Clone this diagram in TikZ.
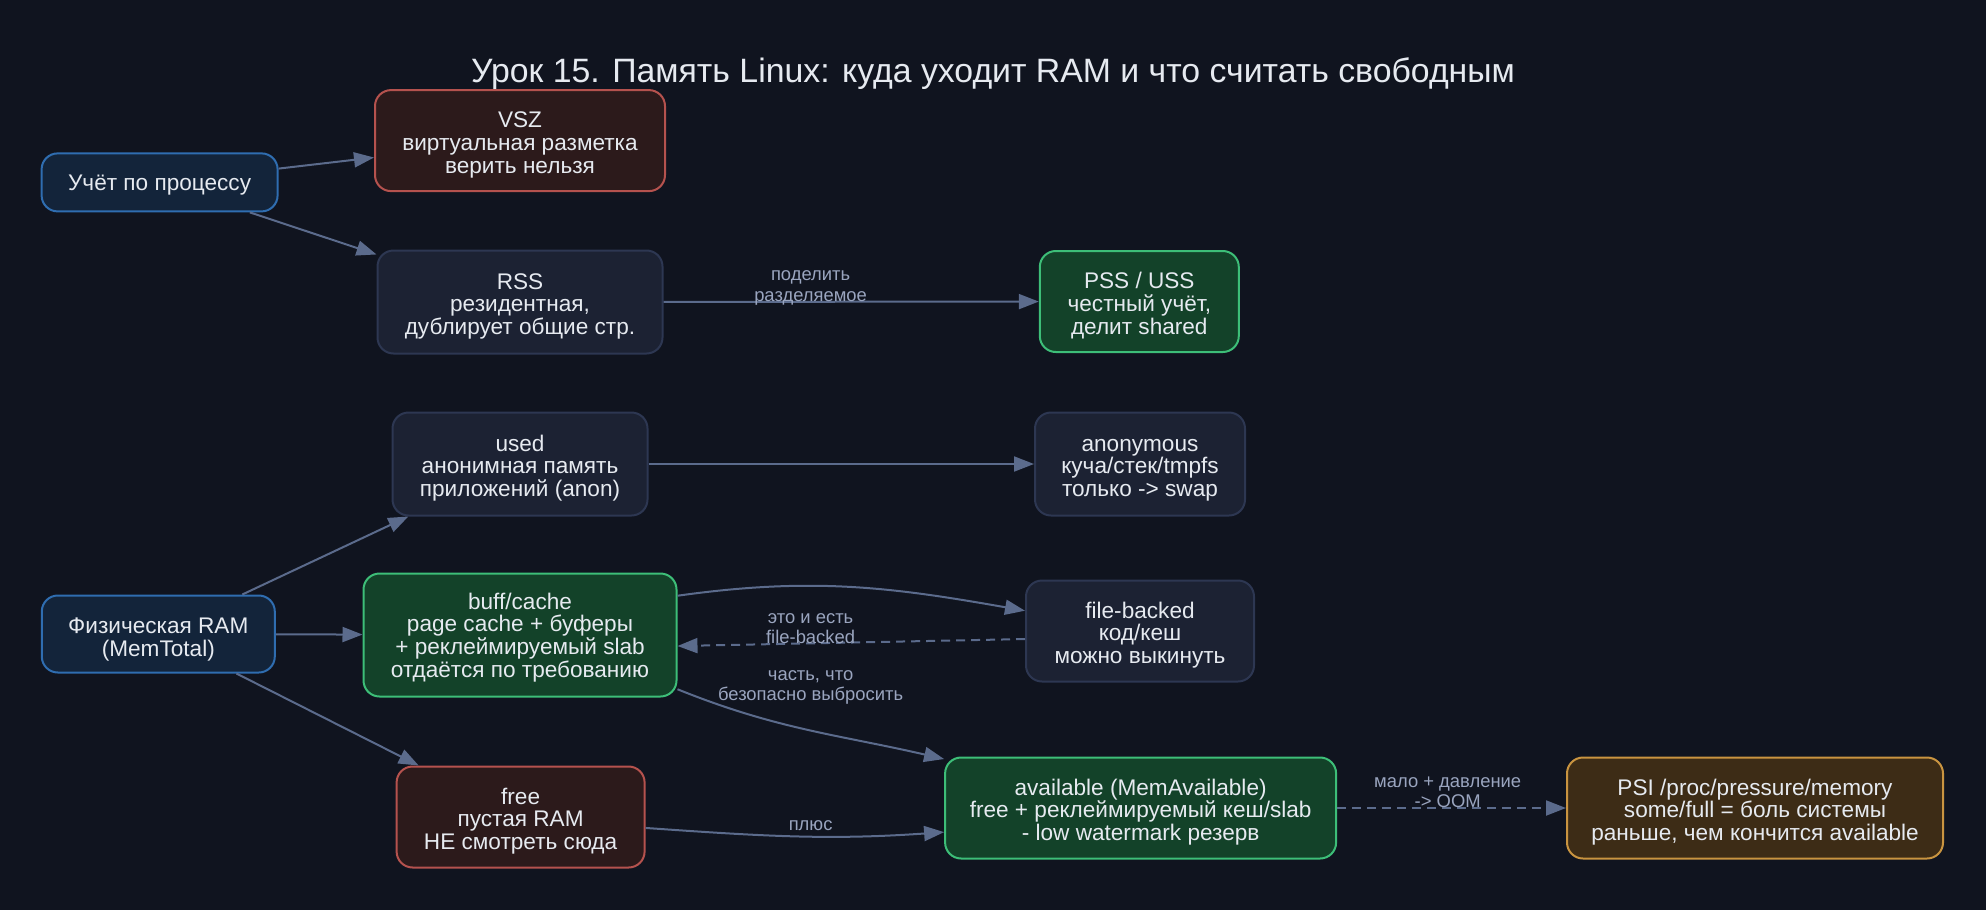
\documentclass[tikz,border=0pt]{standalone}
\usepackage{fontspec}
\setmainfont{Liberation Sans}
\usetikzlibrary{arrows.meta}
\definecolor{bg}{HTML}{10141F}
\definecolor{bluefill}{HTML}{13243A}
\definecolor{blueline}{HTML}{2F6DB0}
\definecolor{redfill}{HTML}{2C1A1B}
\definecolor{redline}{HTML}{B5524E}
\definecolor{neufill}{HTML}{1C2233}
\definecolor{neuline}{HTML}{2D3752}
\definecolor{grnfill}{HTML}{134229}
\definecolor{grnline}{HTML}{3DBE78}
\definecolor{ambfill}{HTML}{3D2C16}
\definecolor{ambline}{HTML}{C99440}
\definecolor{edgecol}{HTML}{5B6B8C}
\definecolor{lblcol}{HTML}{9AA5BF}
\definecolor{txtcol}{HTML}{E6EAF0}
\tikzset{
  box/.style={draw, rounded corners=8pt, line width=1pt, align=center, text=txtcol,
    font=\fontsize{11.3pt}{11.35pt}\selectfont, inner sep=0pt, text depth=2.5pt},
  one/.style={text height=11pt},
  two/.style={text height=24.9pt},
  three/.style={text height=35.1pt},
  four/.style={text height=44.8pt},
  sz/.style 2 args={minimum width=#1*0.5pt, minimum height=#2*0.5pt},
  bluebox/.style={box, fill=bluefill, draw=blueline},
  redbox/.style={box, fill=redfill, draw=redline},
  neubox/.style={box, fill=neufill, draw=neuline},
  grnbox/.style={box, fill=grnfill, draw=grnline},
  ambbox/.style={box, fill=ambfill, draw=ambline},
  conn/.style={draw=edgecol, line width=1pt, -{Triangle[length=10pt,width=7.5pt]}},
  dconn/.style={conn, dash pattern=on 4.5pt off 3pt},
  lbl/.style={text=lblcol, align=center, font=\fontsize{9.2pt}{10.2pt}\selectfont, inner sep=0pt},
}
\begin{document}
\begin{tikzpicture}[x=0.5pt,y=-0.5pt]
\fill[bg] (0,0) rectangle (1986,910);
\useasboundingbox (0,0) rectangle (1986,910);

\node[text=txtcol, font=\fontsize{16.9pt}{18pt}\selectfont] (title) at (993,74) {Урок 15. Память Linux: куда уходит RAM и что считать свободным};

\node[bluebox, one, sz={236}{58}] (uchet) at (159.6,182.4) {Учёт по процессу};
\node[redbox, three, sz={290}{101}] (vsz) at (520,140.6) {VSZ\\виртуальная разметка\\верить нельзя};
\node[neubox, three, sz={285}{103}] (rss) at (520,302) {RSS\\резидентная,\\дублирует общие стр.};
\node[grnbox, three, sz={199}{101}] (pss) at (1139.3,301.5) {PSS / USS\\честный учёт,\\делит shared};
\node[neubox, three, sz={255}{103}] (used) at (520,464) {used\\анонимная память\\приложений (anon)};
\node[neubox, three, sz={210}{103}] (anon) at (1140,464) {anonymous\\куча/стек/tmpfs\\только -> swap};
\node[bluebox, two, sz={233}{77}] (phys) at (158.3,634) {Физическая RAM\\(MemTotal)};
\node[grnbox, four, sz={313}{123}] (buff) at (520,635) {buff/cache\\page cache + буферы\\+ реклеймируемый slab\\отдаётся по требованию};
\node[neubox, three, sz={228}{101}] (file) at (1140,631) {file-backed\\код/кеш\\можно выкинуть};
\node[redbox, three, sz={248}{101}] (free) at (520.6,817) {free\\пустая RAM\\НЕ смотреть сюда};
\node[grnbox, three, sz={391}{101}] (avail) at (1140.6,808) {available (MemAvailable)\\free + реклеймируемый кеш/slab\\- low watermark резерв};
\node[ambbox, three, sz={376}{101}] (psi) at (1755,808) {PSI /proc/pressure/memory\\some/full = боль системы\\раньше, чем кончится available};

\draw[conn] (uchet) -- (vsz);
\draw[conn] (uchet) -- (rss);
\draw[conn] (rss) -- (pss);
\draw[conn] (used) -- (anon);
\draw[conn] (phys) -- (used);
\draw[conn] (phys) -- (buff);
\draw[conn] (phys) -- (free);
\draw[conn] (buff.14) to[out=8,in=170] (file.170);
\draw[dconn] (file.184) -- (buff.356);
\draw[conn] (buff.341) to[out=-22,in=167] (avail.166);
\draw[conn] (free.355) to[out=-4,in=184] (avail.187);
\draw[dconn] (avail) -- (psi);

\node[lbl] (l1) at (810.6,288) {поделить\\разделяемое};
\node[lbl] (l2) at (810.6,628.5) {это и есть\\file-backed};
\node[lbl] (l3) at (810.6,687.5) {часть, что\\безопасно выбросить};
\node[lbl] (l4) at (810.6,825.5) {плюс};
\node[lbl] (l5) at (1447.7,792) {мало + давление\\-> OOM};
\end{tikzpicture}
\end{document}
